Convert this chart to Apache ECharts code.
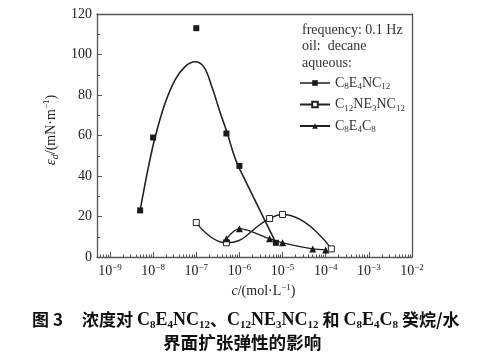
<!DOCTYPE html>
<html><head><meta charset="utf-8">
<script src="https://cdn.jsdelivr.net/npm/echarts@6/dist/echarts.min.js"></script>
<style>html,body{margin:0;padding:0;background:#fff}#c{width:481px;height:356px}</style>
</head><body><div id="c"></div>
<script>
// ---- data ----
const seriesNames = ['C8E4NC12', 'C12NE3NC12', 'C8E4C8'];
// C8E4NC12 (filled squares)
const c1 = [5e-9, 1e-8, 1e-7, 5e-7, 1e-6, 7e-6];
const e1 = [23, 59, 113, 61, 45, 7];
// hand-drawn guide curve for C8E4NC12
const guideC = [5e-9, 7.8e-9, 1.12e-8, 1.9e-8, 3.2e-8, 5.5e-8, 9.3e-8, 1.48e-7, 2.3e-7, 3.6e-7, 5.1e-7, 7.2e-7, 9.5e-7];
const guideE = [23, 44.6, 59.4, 76, 87.4, 94, 96.4, 94, 84.1, 71.1, 61.9, 51.4, 44.6];
const tailC = [9.5e-7, 7e-6];
const tailE = [44.6, 7];
// C12NE3NC12 (open squares)
const c2 = [1e-7, 5e-7, 5e-6, 1e-5, 1.35e-4];
const e2 = [17, 7, 19, 21, 4];
// C8E4C8 (filled triangles)
const c3 = [5e-7, 1e-6, 5e-6, 1e-5, 5e-5, 1e-4];
const e3 = [9, 14, 9, 7, 4, 3.5];
// axes
const xMin = 5e-10, xMax = 1e-2;
const yMin = 0, yMax = 120, yStep = 20;
const infoLines = ['frequency: 0.1 Hz', 'oil:  decane', 'aqueous:'];

// ---- chart ----
const serif = "'Liberation Serif','Times New Roman',serif";
const cjk = "'Noto Sans CJK SC','Noto Sans CJK JP',sans-serif";
const axisColor = '#555';
const ink = '#1a1a1a';
const pairs = (xs, ys) => xs.map((x, i) => [x, ys[i]]);

const minorLogTicks = [];
for (let n = -10; n <= -3; n++) {
  for (let k = 2; k <= 9; k++) {
    const v = Math.log10(k) + n;
    if (v >= Math.log10(xMin) - 1e-9 && v <= Math.log10(xMax)) minorLogTicks.push(v);
  }
}

const legendLabels = {
  'C8E4NC12': '{n|C}{s|8}{n|E}{s|4}{n|NC}{s|12}',
  'C12NE3NC12': '{n|C}{s|12}{n|NE}{s|3}{n|NC}{s|12}',
  'C8E4C8': '{n|C}{s|8}{n|E}{s|4}{n|C}{s|8}'
};

const capRich = {
  cn: {fontFamily: cjk, fontSize: 17, fontWeight: 'bold', color: '#111', lineHeight: 22},
  cn2: {fontFamily: cjk, fontSize: 17.6, fontWeight: 'bold', color: '#111', lineHeight: 22},
  num: {fontFamily: cjk, fontSize: 17, fontWeight: 'bold', color: '#111', lineHeight: 22, padding: [0, 19, 0, 4]},
  b: {fontFamily: serif, fontSize: 18, fontWeight: 'bold', color: '#111', lineHeight: 22},
  bs: {fontFamily: serif, fontSize: 11, fontWeight: 'bold', color: '#111', verticalAlign: 'bottom'},
  sp: {fontFamily: serif, fontSize: 18, lineHeight: 22, width: 4}
};
const cap1 = '{cn|图}{num|3}{cn|浓度对}{sp| }{b|C}{bs|8}{b|E}{bs|4}{b|NC}{bs|12}{cn|、}{b|C}{bs|12}{b|NE}{bs|3}{b|NC}{bs|12}{sp| }{cn|和}{sp| }{b|C}{bs|8}{b|E}{bs|4}{b|C}{bs|8}{sp| }{cn|癸烷/水}';
const cap2 = '{cn2|界面扩张弹性的影响}';

const chart = echarts.init(document.getElementById('c'));
chart.setOption({
  animation: false,
  backgroundColor: '#fff',
  title: [
    {left: 32, top: 309, padding: 0, text: cap1, textStyle: {rich: capRich}},
    {left: 163, top: 331, padding: 0, text: cap2, textStyle: {rich: capRich}}
  ],
  grid: {left: 97, right: 69, top: 14, bottom: 99},
  xAxis: [
    {
      type: 'log', logBase: 10, min: xMin, max: xMax, position: 'bottom',
      axisLine: {onZero: false, lineStyle: {color: axisColor, width: 1.3}},
      axisTick: {inside: true, length: 5, lineStyle: {color: axisColor}},
      splitLine: {show: false},
      axisLabel: {
        margin: 6,
        formatter: v => {
          const e = Math.log10(v), r = Math.round(e);
          if (Math.abs(e - r) > 1e-6) return '';
          return '{b|10}{s|\u2212' + (-r) + '}';
        },
        rich: {
          b: {fontFamily: serif, fontSize: 14, color: '#222', lineHeight: 16},
          s: {fontFamily: serif, fontSize: 9, color: '#222', verticalAlign: 'top'}
        }
      },
      name: '{i|c}{n|/(mol\u00b7L}{s|\u22121}{n|)}',
      nameLocation: 'middle', nameGap: 25,
      nameTextStyle: {
        padding: [0, 0, 0, 18],
        rich: {
          i: {fontFamily: serif, fontSize: 14, fontStyle: 'italic', color: '#222', lineHeight: 16},
          n: {fontFamily: serif, fontSize: 14, color: '#222', lineHeight: 16},
          s: {fontFamily: serif, fontSize: 9, color: '#222', verticalAlign: 'top'}
        }
      }
    },
    {
      type: 'value', position: 'top', min: 0, max: 1,
      axisLine: {show: true, onZero: false, lineStyle: {color: axisColor, width: 1.3}},
      axisTick: {show: false}, axisLabel: {show: false}, splitLine: {show: false}
    },
    {
      type: 'value', position: 'bottom', min: Math.log10(xMin), max: Math.log10(xMax),
      axisLine: {show: false, onZero: false},
      axisTick: {show: true, inside: true, length: 2.5, customValues: minorLogTicks, lineStyle: {color: axisColor}},
      axisLabel: {show: false}, splitLine: {show: false}
    }
  ],
  yAxis: [
    {
      type: 'value', min: yMin, max: yMax, interval: yStep, position: 'left',
      axisLine: {show: true, onZero: false, lineStyle: {color: axisColor, width: 1.3}},
      axisTick: {show: true, inside: true, length: 5, lineStyle: {color: axisColor}},
      minorTick: {show: true, splitNumber: 2, length: 3, lineStyle: {color: axisColor}},
      splitLine: {show: false},
      axisLabel: {fontFamily: serif, fontSize: 14, color: '#222', margin: 5},
      name: '{i|\u03b5}{is|d}{n|/(mN\u00b7m}{s|\u22121}{n|)}',
      nameLocation: 'middle', nameGap: 34, nameRotate: 90,
      nameTextStyle: {
        padding: [0, 0, 0, 11],
        rich: {
          i: {fontFamily: serif, fontSize: 15, fontStyle: 'italic', color: '#222', lineHeight: 18},
          is: {fontFamily: serif, fontSize: 10, fontStyle: 'italic', color: '#222', verticalAlign: 'bottom'},
          n: {fontFamily: serif, fontSize: 14, color: '#222', lineHeight: 18},
          s: {fontFamily: serif, fontSize: 9, color: '#222', verticalAlign: 'top'}
        }
      }
    },
    {
      type: 'value', position: 'right', min: 0, max: 1,
      axisLine: {show: true, onZero: false, lineStyle: {color: axisColor, width: 1.3}},
      axisTick: {show: false}, axisLabel: {show: false}, splitLine: {show: false}
    }
  ],
  legend: {
    orient: 'vertical', left: 294, top: 71,
    itemWidth: 30, itemHeight: 7, itemGap: 6,
    data: [
      {name: seriesNames[0], lineStyle: {opacity: 1, color: '#222', width: 1.5}},
      {name: seriesNames[1]},
      {name: seriesNames[2]}
    ],
    formatter: name => legendLabels[name],
    textStyle: {
      rich: {
        n: {fontFamily: serif, fontSize: 14, color: '#333', lineHeight: 17},
        s: {fontFamily: serif, fontSize: 9, color: '#333', verticalAlign: 'bottom'}
      }
    }
  },
  graphic: infoLines.map((t, i) => ({
    type: 'text', left: 302, top: [23, 39, 56][i],
    style: {text: t, font: '14px ' + serif, fill: '#333'}
  })),
  series: [
    {
      name: seriesNames[0], type: 'line', data: pairs(c1, e1),
      symbol: 'rect', symbolSize: 6, showAllSymbol: true,
      lineStyle: {opacity: 0}, itemStyle: {color: ink}, z: 4
    },
    {
      name: 'guide', type: 'line', data: pairs(guideC, guideE), smooth: 0.4,
      symbol: 'none', lineStyle: {color: '#222', width: 1.6}, silent: true, z: 2
    },
    {
      name: 'tail', type: 'line', data: pairs(tailC, tailE),
      symbol: 'none', lineStyle: {color: '#222', width: 1.6}, silent: true, z: 2
    },
    {
      name: seriesNames[1], type: 'line', data: pairs(c2, e2), smooth: true,
      symbol: 'rect', symbolSize: 6,
      itemStyle: {color: '#fff', borderColor: '#222', borderWidth: 1},
      lineStyle: {color: '#222', width: 1.4}, z: 3
    },
    {
      name: seriesNames[2], type: 'line', data: pairs(c3, e3), smooth: 0.3,
      symbol: 'triangle', symbolSize: 7,
      itemStyle: {color: ink},
      lineStyle: {color: '#222', width: 1.4}, z: 3
    }
  ]
});
</script>
</body></html>
